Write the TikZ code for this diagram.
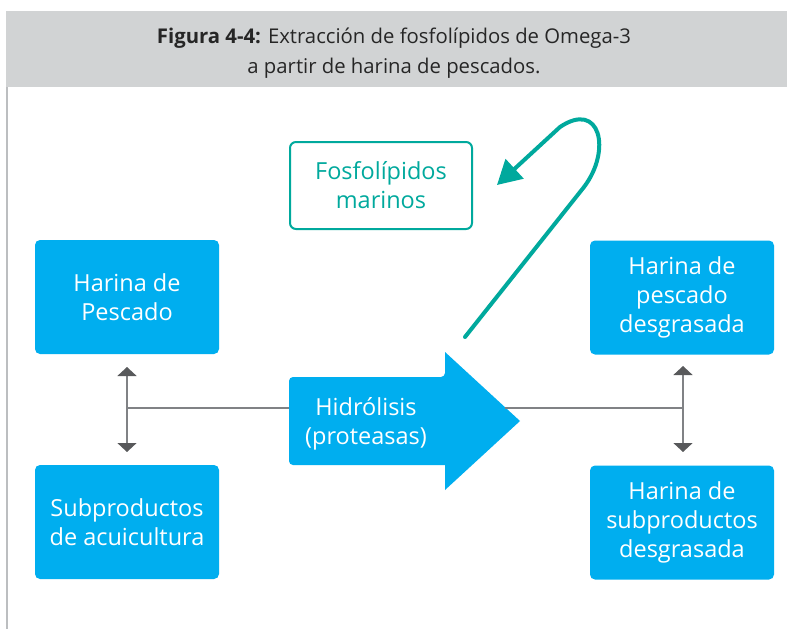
\documentclass[tikz,border=0pt]{standalone}
\usepackage{fontspec}
\setmainfont{Open Sans}
\usetikzlibrary{arrows.meta}
\definecolor{cblue}{HTML}{00AEEF}
\definecolor{cteal}{HTML}{00A99D}
\definecolor{chead}{HTML}{D1D3D4}
\definecolor{cdark}{HTML}{58595B}
\definecolor{cline}{HTML}{808285}
\definecolor{cborder}{HTML}{BCBEC0}
\tikzset{
  bluebox/.style={fill=cblue, rounded corners=5pt, minimum width=184pt, minimum height=114pt, text=white, align=center, font=\fontsize{23.5}{29}\selectfont, inner sep=0pt},
  tealbox/.style={draw=cteal, line width=2pt, fill=white, rounded corners=6pt, minimum width=182pt, minimum height=87pt, text=cteal, align=center, font=\fontsize{23.5}{29}\selectfont, inner sep=0pt},
  link/.style={draw=cline, line width=1.5pt},
  dbl/.style={draw=cline, line width=1.5pt, {Triangle[length=9pt,width=19pt,fill=cdark,color=cdark]}-{Triangle[length=9pt,width=19pt,fill=cdark,color=cdark]}},
}
\begin{document}
\begin{tikzpicture}[x=1pt,y=-1pt]
\useasboundingbox (0,0) rectangle (787,629);
\fill[white] (0,0) rectangle (787,629);
% header
\fill[chead] (6,11) rectangle (787,87);
\draw[cborder, line width=1.5pt] (7,87) -- (7,629);
\node (title) at (394,53) [align=center, font=\fontsize{20.3}{30}\selectfont, text=black!85] {\textbf{Figura 4-4:} Extracción de fosfolípidos de Omega-3\\a partir de harina de pescados.};
% boxes
\node[bluebox] (hp) at (127,297) {Harina de\\Pescado};
\node[bluebox] (sa) at (127,522) {Subproductos\\de acuicultura};
\node[bluebox] (hpd) at (682,297.5) {Harina de\\pescado\\desgrasada};
\node[bluebox] (hsd) at (682,522.5) {Harina de\\subproductos\\desgrasada};
\node[tealbox] (fm) at (381,185.5) {Fosfolípidos\\marinos};
% central arrow
\fill[cblue, rounded corners=4pt] (289,377) -- (445,377) [sharp corners] -- (445,352) -- (520,421) -- (445,490) -- (445,465) [rounded corners=4pt] -- (289,465) -- cycle;
\node (hyd) at (366,424) [text=white, align=center, font=\fontsize{23.5}{29}\selectfont] {Hidrólisis\\(proteasas)};
% connectors
\coordinate (lt) at (127,367);
\coordinate (lm) at (127,408);
\coordinate (lb) at (127,452);
\coordinate (la) at (289,408);
\coordinate (rt) at (683,366);
\coordinate (rm) at (683,408);
\coordinate (rb) at (683,452);
\coordinate (ra) at (505,408);
\draw[link] (lm) -- (la);
\draw[dbl] (lt) -- (lb);
\draw[link] (ra) -- (rm);
\draw[dbl] (rt) -- (rb);
% teal loop arrow
\coordinate (ts) at (465,337);
\coordinate (te) at (497,185);
\draw[cteal, line width=4pt, line cap=round, -{Triangle[length=24pt,width=26pt]}] (ts) -- (584,187) .. controls (612,150) and (600,100) .. (560,127) -- (te);
\end{tikzpicture}
\end{document}
